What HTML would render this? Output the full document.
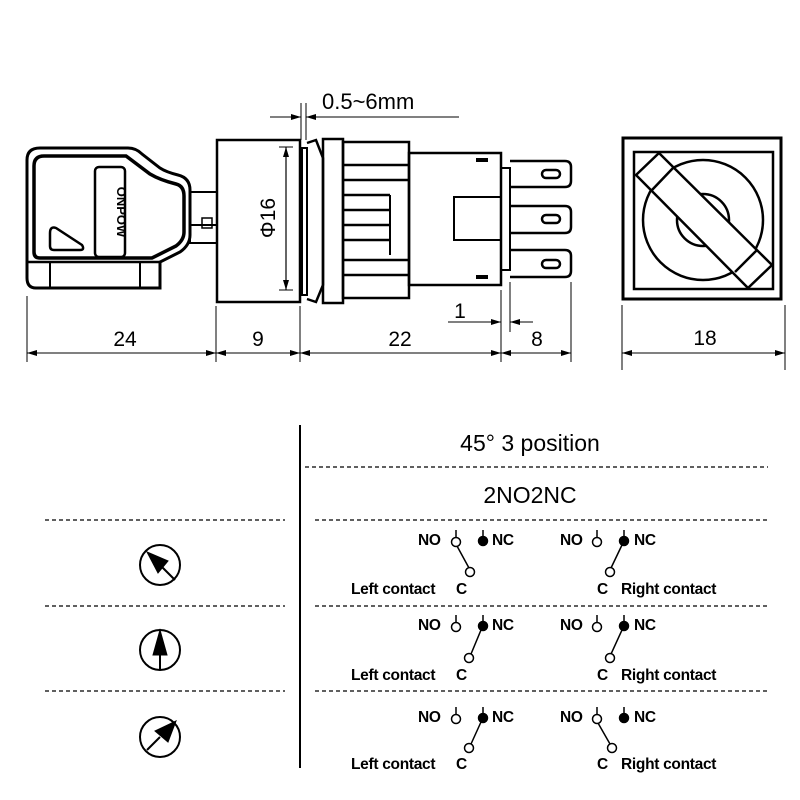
<!DOCTYPE html>
<html><head><meta charset="utf-8"><style>
html,body{margin:0;padding:0;background:#fff;}
svg{display:block;font-family:"Liberation Sans",sans-serif;}
</style></head><body>
<svg width="800" height="800" viewBox="0 0 800 800" xmlns="http://www.w3.org/2000/svg">
<defs>
<marker id="a" viewBox="0 0 10 6" refX="10" refY="3" markerWidth="10" markerHeight="6" orient="auto-start-reverse" markerUnits="userSpaceOnUse"><path d="M0,0 L10,3 L0,6 Z" fill="#000"/></marker>
</defs>
<g fill="none" stroke="#000">
<!-- KEY -->
<path d="M40,148 L128,148 Q136,148 142,154 L160,168 Q166,172 178,175 Q190,178 190,190 L190,235 Q190,245 180,252 L160,262 L160,288 L36,288 Q27,288 27,278 L27,160 Q27,148 40,148 Z" stroke-width="3"/>
<path d="M44,156 L126,156 L150,174 Q160,180 176,184 Q184,186 184,196 L184,232 Q184,240 176,246 L152,258 L40,258 Q34,258 34,252 L34,166 Q34,156 44,156 Z" stroke-width="3.5"/>
<line x1="27" y1="262" x2="160" y2="262" stroke-width="2.5"/>
<line x1="50" y1="262" x2="50" y2="288" stroke-width="2"/>
<line x1="140" y1="262" x2="140" y2="288" stroke-width="2"/>
<rect x="95" y="167" width="30" height="90" rx="4" stroke-width="2.5"/>
<path d="M50,233 Q50,226 56,228 L82,245 Q85,250 80,250 L54,250 Q50,250 50,246 Z" stroke-width="2.5"/>
<!-- shaft -->
<rect x="190" y="192" width="27" height="51" stroke-width="2"/>
<line x1="190" y1="225" x2="217" y2="225" stroke-width="2"/>
<rect x="202" y="218" width="10" height="10" stroke-width="1.5"/>
<!-- bezel -->
<rect x="217" y="140" width="83" height="162" stroke-width="2.5"/>
<line x1="286" y1="147" x2="286" y2="290" stroke-width="1.2" marker-start="url(#a)" marker-end="url(#a)"/>
<line x1="279" y1="147" x2="293" y2="147" stroke-width="1"/>
<line x1="279" y1="290" x2="293" y2="290" stroke-width="1"/>
<!-- panel -->
<rect x="302" y="148" width="5" height="147" stroke-width="2"/>
<path d="M307,143 L316,140 L323,158 L323,285 L316,302 L307,299" stroke-width="2.5"/>
<rect x="323" y="139" width="20" height="164" stroke-width="2.5"/>
<!-- ribbed body -->
<rect x="343" y="142" width="66" height="156" stroke-width="2.5"/>
<g stroke-width="2.5">
<line x1="343" y1="165" x2="409" y2="165"/><line x1="343" y1="180" x2="409" y2="180"/>
<line x1="343" y1="195" x2="390" y2="195"/><line x1="343" y1="210" x2="390" y2="210"/>
<line x1="343" y1="225" x2="390" y2="225"/><line x1="343" y1="240" x2="390" y2="240"/>
<line x1="343" y1="260" x2="409" y2="260"/><line x1="343" y1="275" x2="409" y2="275"/>
</g>
<line x1="390" y1="195" x2="390" y2="255" stroke-width="2"/>
<!-- rear body -->
<rect x="409" y="153" width="92" height="132" stroke-width="2.5"/>
<rect x="454" y="197" width="47" height="43" stroke-width="2"/>
<rect x="476" y="158" width="12" height="4" fill="#000" stroke="none"/>
<rect x="476" y="275" width="12" height="4" fill="#000" stroke="none"/>
<rect x="501" y="168" width="9" height="102" stroke-width="2"/>
<!-- terminals -->
<g stroke-width="2.5">
<path d="M510,161 L565,161 Q571,161 571,167 L571,181 Q571,187 565,187 L510,187"/>
<path d="M510,206 L565,206 Q571,206 571,212 L571,227 Q571,233 565,233 L510,233"/>
<path d="M510,250 L565,250 Q571,250 571,256 L571,271 Q571,277 565,277 L510,277"/>
<rect x="542" y="170" width="18" height="8" rx="4"/>
<rect x="542" y="215" width="18" height="8" rx="4"/>
<rect x="542" y="260" width="18" height="8" rx="4"/>
</g>
<!-- dims -->
<g stroke-width="1">
<line x1="27" y1="296" x2="27" y2="362"/><line x1="216" y1="306" x2="216" y2="362"/>
<line x1="300" y1="306" x2="300" y2="362"/><line x1="501" y1="290" x2="501" y2="362"/>
<line x1="571" y1="282" x2="571" y2="362"/><line x1="510" y1="282" x2="510" y2="332"/>
<line x1="27" y1="353" x2="216" y2="353" marker-start="url(#a)" marker-end="url(#a)"/>
<line x1="216" y1="353" x2="300" y2="353" marker-start="url(#a)" marker-end="url(#a)"/>
<line x1="300" y1="353" x2="501" y2="353" marker-start="url(#a)" marker-end="url(#a)"/>
<line x1="501" y1="353" x2="571" y2="353" marker-start="url(#a)" marker-end="url(#a)"/>
<line x1="448" y1="322" x2="501" y2="322" marker-end="url(#a)"/>
<line x1="533" y1="322" x2="510" y2="322" marker-end="url(#a)"/>
<line x1="301" y1="103" x2="301" y2="140"/><line x1="306" y1="103" x2="306" y2="140"/>
<line x1="270" y1="117" x2="301" y2="117" marker-end="url(#a)"/>
<line x1="322" y1="117" x2="306" y2="117" marker-end="url(#a)"/>
<line x1="322" y1="117" x2="459" y2="117"/>
</g>
<!-- right view -->
<rect x="623" y="138" width="158" height="161" stroke-width="3"/>
<rect x="634" y="152" width="139" height="137" stroke-width="2.5"/>
<circle cx="703" cy="220" r="60" stroke-width="2.5"/>
<circle cx="703" cy="220" r="26" stroke-width="2.5"/>
<polygon points="659,153 772,265 748,288 636,175" fill="#fff" stroke-width="2.5"/>
<line x1="652" y1="190" x2="673" y2="168" stroke-width="2.5"/>
<line x1="735" y1="272" x2="757" y2="250" stroke-width="2.5"/>
<g stroke-width="1">
<line x1="622" y1="305" x2="622" y2="370"/><line x1="785" y1="305" x2="785" y2="370"/>
<line x1="622" y1="353" x2="785" y2="353" marker-start="url(#a)" marker-end="url(#a)"/>
</g>
<!-- table -->
<line x1="300" y1="425" x2="300" y2="768" stroke-width="2"/>
<g stroke-width="1.2" stroke-dasharray="4,3">
<line x1="305" y1="467" x2="768" y2="467"/>
<line x1="45" y1="520" x2="285" y2="520"/><line x1="315" y1="520" x2="768" y2="520"/>
<line x1="45" y1="606" x2="285" y2="606"/><line x1="315" y1="606" x2="768" y2="606"/>
<line x1="45" y1="691" x2="285" y2="691"/><line x1="315" y1="691" x2="768" y2="691"/>
</g>
<!-- icons -->
<g stroke-width="2">
<circle cx="160" cy="565" r="20"/><line x1="160" y1="565" x2="175" y2="580"/>
<circle cx="160" cy="650" r="20"/><line x1="160" y1="650" x2="160" y2="670"/>
<circle cx="160" cy="737" r="20"/><line x1="160" y1="737" x2="147" y2="750"/>
</g>
<polygon points="147,552 168,561 158,573" fill="#000"/>
<polygon points="160,630 167,655 153,655" fill="#000"/>
<polygon points="176,721 168,742 155,731" fill="#000"/>
</g>
<!-- text -->
<g font-size="21" fill="#000">
<text x="125" y="346" text-anchor="middle">24</text>
<text x="258" y="346" text-anchor="middle">9</text>
<text x="400" y="346" text-anchor="middle">22</text>
<text x="537" y="346" text-anchor="middle">8</text>
<text x="460" y="318" text-anchor="middle">1</text>
<text x="705" y="345" text-anchor="middle">18</text>
<text x="322" y="109" font-size="22">0.5~6mm</text>
<text transform="translate(275,218) rotate(-90)" text-anchor="middle" font-size="21">Φ16</text>
<text x="530" y="451" text-anchor="middle" font-size="23">45°  3 position</text>
<text x="530" y="503" text-anchor="middle" font-size="23">2NO2NC</text>
</g>
<text transform="translate(117,212) rotate(90)" text-anchor="middle" font-size="13" font-weight="bold" fill="#000">ONPOW</text>
<g font-size="15.5" font-weight="bold" fill="#000" stroke="none" letter-spacing="-0.3">
<text x="418" y="545">NO</text><text x="492" y="545">NC</text><text x="560" y="545">NO</text><text x="634" y="545">NC</text>
<text x="351" y="594">Left contact</text><text x="456" y="594">C</text><text x="597" y="594">C</text><text x="621" y="594">Right contact</text>
<text x="418" y="630">NO</text><text x="492" y="630">NC</text><text x="560" y="630">NO</text><text x="634" y="630">NC</text>
<text x="351" y="680">Left contact</text><text x="456" y="680">C</text><text x="597" y="680">C</text><text x="621" y="680">Right contact</text>
<text x="418" y="722">NO</text><text x="492" y="722">NC</text><text x="560" y="722">NO</text><text x="634" y="722">NC</text>
<text x="351" y="769">Left contact</text><text x="456" y="769">C</text><text x="597" y="769">C</text><text x="621" y="769">Right contact</text>
</g>
<g stroke="#000" stroke-width="1.5" fill="#fff">
<!-- row1 -->
<line x1="456" y1="530" x2="456" y2="538"/><line x1="483" y1="530" x2="483" y2="537"/>
<line x1="597" y1="530" x2="597" y2="538"/><line x1="624" y1="530" x2="624" y2="537"/>
<line x1="457" y1="546" x2="469" y2="568"/><line x1="622" y1="545" x2="611" y2="568"/>
<circle cx="456" cy="542" r="4.5"/><circle cx="483" cy="541" r="4.5" fill="#000"/><circle cx="470" cy="572" r="4.5"/>
<circle cx="597" cy="542" r="4.5"/><circle cx="624" cy="541" r="4.5" fill="#000"/><circle cx="610" cy="572" r="4.5"/>
<!-- row2 -->
<line x1="456" y1="615" x2="456" y2="623"/><line x1="483" y1="615" x2="483" y2="622"/>
<line x1="597" y1="615" x2="597" y2="623"/><line x1="624" y1="615" x2="624" y2="622"/>
<line x1="481" y1="630" x2="471" y2="654"/><line x1="622" y1="630" x2="611" y2="654"/>
<circle cx="456" cy="627" r="4.5"/><circle cx="483" cy="626" r="4.5" fill="#000"/><circle cx="469" cy="658" r="4.5"/>
<circle cx="597" cy="627" r="4.5"/><circle cx="624" cy="626" r="4.5" fill="#000"/><circle cx="610" cy="658" r="4.5"/>
<!-- row3 -->
<line x1="456" y1="707" x2="456" y2="715"/><line x1="483" y1="707" x2="483" y2="714"/>
<line x1="597" y1="707" x2="597" y2="715"/><line x1="624" y1="707" x2="624" y2="714"/>
<line x1="481" y1="722" x2="471" y2="744"/><line x1="598" y1="723" x2="610" y2="744"/>
<circle cx="456" cy="719" r="4.5"/><circle cx="483" cy="718" r="4.5" fill="#000"/><circle cx="469" cy="748" r="4.5"/>
<circle cx="597" cy="719" r="4.5"/><circle cx="624" cy="718" r="4.5" fill="#000"/><circle cx="612" cy="748" r="4.5"/>
</g>
</svg>
</body></html>
